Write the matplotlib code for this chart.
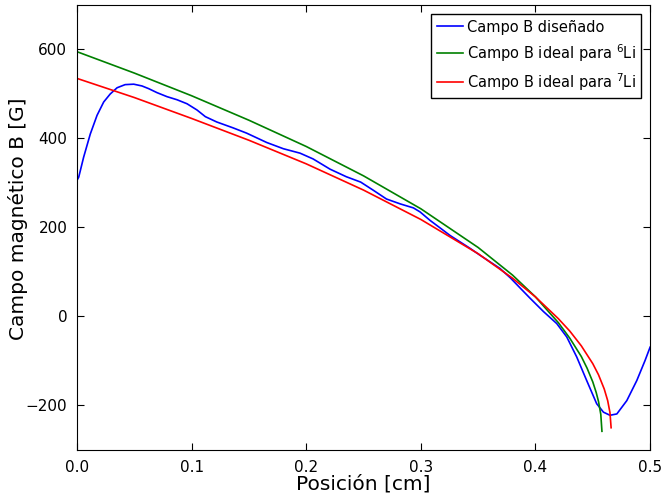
import matplotlib
matplotlib.use("Agg")
import matplotlib.pyplot as plt

# Designed field (blue)
x_blue = [0.0, 0.0015, 0.0058, 0.0116, 0.0175, 0.0233, 0.029, 0.035, 0.042, 0.0495,
          0.0567, 0.0625, 0.0698, 0.0785, 0.0873, 0.096, 0.1047, 0.112, 0.122, 0.136,
          0.148, 0.1655, 0.180, 0.1946, 0.206, 0.2208, 0.235, 0.2475, 0.2589, 0.270,
          0.282, 0.2935, 0.2993, 0.308, 0.3168, 0.3255, 0.343, 0.352, 0.369, 0.378,
          0.387, 0.3953, 0.407, 0.4186, 0.4273, 0.436, 0.4447, 0.4534, 0.4593, 0.465,
          0.471, 0.4797, 0.4884, 0.4956, 0.500]
b_blue = [306, 313, 358, 410, 452, 482, 500, 514, 521, 522,
          518, 512, 503, 494, 487, 478, 464, 449, 437, 424,
          412, 391, 377, 367, 354, 331, 314, 302, 283, 264,
          253, 244, 235, 216, 199, 182, 153, 137, 108, 87,
          63, 41, 11, -16, -46, -91, -144, -196, -215, -222,
          -219, -189, -144, -99, -69]

# Ideal field for 6Li (green)
x_li6 = [0.0, 0.05, 0.10, 0.15, 0.20, 0.25, 0.30, 0.35, 0.38, 0.40, 0.42, 0.43,
         0.44, 0.445, 0.45, 0.453, 0.455, 0.457, 0.458]
b_li6 = [595, 547, 496, 441, 382, 316, 242, 155, 93, 44, -14, -49,
         -90, -116, -147, -171, -191, -220, -258]

# Ideal field for 7Li (red)
x_li7 = [0.0, 0.05, 0.10, 0.15, 0.20, 0.25, 0.30, 0.35, 0.38, 0.40, 0.42, 0.43,
         0.44, 0.45, 0.455, 0.46, 0.463, 0.465, 0.466]
b_li7 = [535, 492, 445, 396, 343, 284, 218, 141, 86, 44, -5, -33,
         -66, -106, -131, -163, -189, -216, -250]

labels = ["Campo B diseñado", r"Campo B ideal para $^6$Li", r"Campo B ideal para $^7$Li"]

fig = plt.figure(figsize=(6.62, 4.97), dpi=100)
ax = fig.add_axes([0.1163, 0.0946, 0.982 - 0.1163, 0.990 - 0.0946])

ax.plot(x_blue, b_blue, color="#0000ff", lw=1.2, label=labels[0])
ax.plot(x_li6, b_li6, color="#008000", lw=1.2, label=labels[1])
ax.plot(x_li7, b_li7, color="#ff0000", lw=1.2, label=labels[2])

ax.set_xlim(0, 0.5)
ax.set_ylim(-300, 700)
ax.set_xticks([0.0, 0.1, 0.2, 0.3, 0.4, 0.5])
ax.set_yticks([-200, 0, 200, 400, 600])
ax.tick_params(direction="in", top=True, right=True, labelsize=11, length=5, pad=7)
ax.set_xlabel("Posición [cm]", fontsize=14.5)
ax.set_ylabel("Campo magnético B [G]", fontsize=14.5)
ax.xaxis.set_label_coords(0.5, -0.055)
ax.yaxis.set_label_coords(-0.086, 0.52)

leg = ax.legend(loc="upper right", fontsize=10.5, fancybox=False, edgecolor="black",
                framealpha=1, borderaxespad=0.6, handlelength=1.8, handletextpad=0.25)
leg.get_frame().set_linewidth(1.0)

fig.savefig("out.png", dpi=100)
